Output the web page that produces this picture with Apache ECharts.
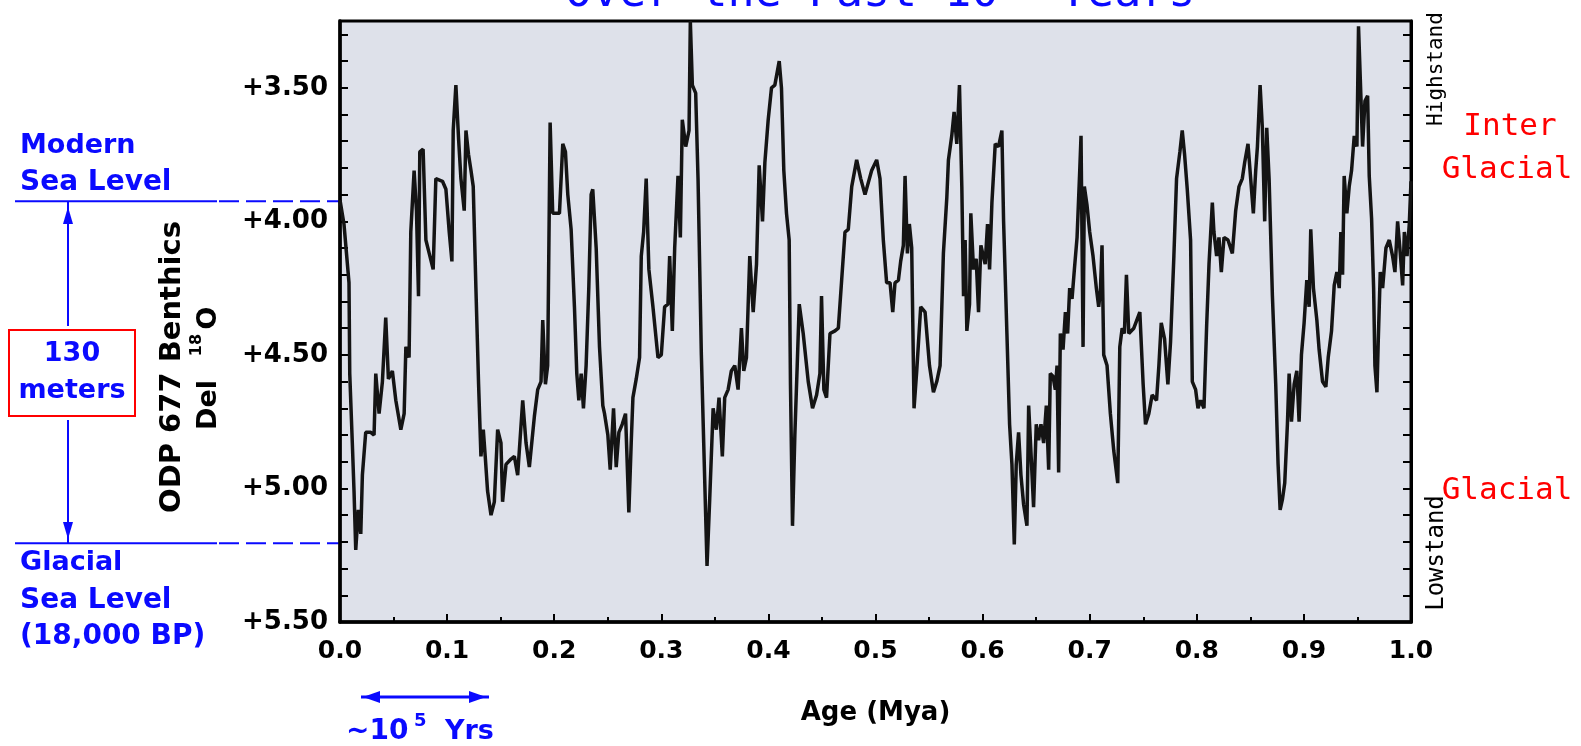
<!DOCTYPE html>
<html>
<head>
<meta charset="utf-8">
<script src="https://cdn.jsdelivr.net/npm/echarts@6/dist/echarts.min.js"></script>
<style>
html,body{margin:0;padding:0;background:#fff;}
#chart{width:1581px;height:746px;}
</style>
</head>
<body>
<div id="chart"></div>
<script>
// Age in millions of years ago (x) and benthic d18O (y)
const ages = [
0.0000,0.0037,0.0084,0.0091,0.0115,0.0131,0.0147,0.0171,0.0194,0.0209,0.0240,0.0287,0.0318,0.0334,0.0365,0.0396,0.0427,0.0452,0.0489,0.0521,
0.0568,0.0599,0.0615,0.0645,0.0661,0.0692,0.0714,0.0733,0.0745,0.0776,0.0802,0.0833,0.0870,0.0895,0.0957,0.0989,0.1020,0.1045,0.1057,0.1082,
0.1107,0.1129,0.1160,0.1176,0.1200,0.1223,0.1244,0.1269,0.1294,0.1316,0.1338,0.1356,0.1378,0.1410,0.1441,0.1472,0.1503,0.1518,0.1550,0.1597,
0.1628,0.1659,0.1706,0.1737,0.1768,0.1815,0.1846,0.1877,0.1893,0.1918,0.1939,0.1962,0.1986,0.2049,0.2080,0.2105,0.2127,0.2158,0.2189,0.2211,
0.2230,0.2252,0.2273,0.2298,0.2323,0.2345,0.2360,0.2392,0.2423,0.2454,
0.2470,0.2501,0.2523,0.2554,0.2579,0.2604,0.2635,0.2666,0.2697,0.2719,0.2735,0.2766,0.2797,0.2813,0.2835,0.2859,0.2884,0.2922,0.2969,0.3000,
0.3031,0.3062,0.3078,0.3103,0.3125,0.3156,0.3178,0.3196,0.3228,0.3259,0.3271,0.3290,0.3321,0.3343,0.3374,0.3396,0.3427,0.3452,0.3484,0.3514,
0.3539,0.3570,0.3592,0.3624,0.3654,0.3686,0.3717,0.3748,0.3770,0.3795,0.3826,0.3858,0.3889,0.3914,0.3945,0.3967,0.3998,0.4029,0.4060,0.4101,
0.4122,0.4144,0.4169,0.4194,0.4206,0.4225,0.4247,0.4269,0.4288,0.4325,0.4372,0.4412,0.4450,0.4481,0.4496,0.4518,0.4543,0.4575,0.4622,0.4653,
0.4684,0.4715,0.4746,0.4778,0.4824,0.4862,0.4902,
0.4964,0.5011,0.5042,0.5073,0.5104,0.5136,0.5161,0.5182,0.5214,0.5235,0.5260,0.5276,0.5298,0.5316,0.5338,0.5360,0.5385,0.5422,0.5463,0.5504,
0.5541,0.5572,0.5603,0.5634,0.5666,0.5681,0.5712,0.5734,0.5759,0.5784,0.5806,0.5822,0.5837,0.5853,0.5878,0.5890,0.5915,0.5940,0.5962,0.5984,
0.6024,0.6046,0.6065,0.6087,0.6118,0.6149,0.6180,0.6196,0.6227,0.6252,0.6274,0.6296,0.6314,0.6336,0.6358,0.6383,0.6414,0.6430,0.6451,0.6476,
0.6501,0.6523,0.6545,0.6570,0.6595,0.6617,0.6632,0.6657,0.6679,0.6695,0.6710,0.6726,0.6751,0.6773,0.6794,0.6813,0.6835,0.6857,0.6882,0.6907,
0.6919,0.6938,0.6950,0.6975,0.7000,0.7031,0.7062,0.7084,0.7100,0.7115,0.7131,0.7162,0.7193,0.7225,0.7262,0.7281,0.7303,0.7324,0.7343,0.7365,
0.7412,0.7468,
0.7499,0.7521,0.7552,0.7583,0.7624,0.7646,0.7668,0.7699,0.7730,0.7755,0.7786,0.7811,0.7842,0.7864,0.7886,0.7911,0.7942,0.7958,0.7989,0.8011,
0.8036,0.8067,0.8092,0.8114,0.8145,0.8160,0.8185,0.8207,0.8229,0.8254,0.8291,0.8332,0.8363,0.8394,0.8425,0.8447,0.8478,0.8503,0.8528,0.8550,
0.8566,0.8591,0.8612,0.8634,0.8653,0.8675,0.8706,0.8737,0.8759,0.8778,0.8800,0.8821,0.8846,0.8862,0.8884,0.8909,0.8934,0.8955,0.8977,0.9002,
0.9027,0.9049,0.9064,0.9089,0.9121,0.9142,0.9174,0.9205,0.9227,0.9258,0.9283,0.9308,0.9330,0.9345,0.9361,0.9376,0.9401,0.9423,0.9445,0.9470,
0.9495,0.9510,0.9526,0.9548,0.9570,0.9595,0.9610,0.9632,0.9651,0.9663,0.9682,0.9694,0.9713,0.9735,0.9766,0.9797,0.9828,0.9850,0.9875,0.9900,
0.9922,0.9938,0.9963,0.9984,1.0000
];
const d18O = [
3.92,4.01,4.23,4.57,4.83,5.01,5.23,5.08,5.17,4.95,4.79,4.79,4.80,4.57,4.72,4.60,4.36,4.59,4.56,4.67,
4.78,4.72,4.47,4.51,4.04,3.81,3.96,4.28,3.74,3.73,4.07,4.12,4.18,3.84,3.85,3.88,4.04,4.15,3.66,3.49,
3.69,3.84,3.96,3.66,3.75,3.81,3.87,4.25,4.61,4.88,4.78,4.88,5.01,5.10,5.05,4.78,4.83,5.05,4.91,4.89,
4.88,4.95,4.67,4.83,4.92,4.73,4.63,4.60,4.37,4.61,4.54,3.63,3.97,3.97,3.71,3.74,3.90,4.03,4.32,4.57,
4.67,4.57,4.70,4.54,4.25,3.90,3.88,4.10,4.47,4.69,
4.72,4.80,4.93,4.70,4.92,4.79,4.76,4.72,5.09,4.83,4.66,4.59,4.51,4.13,4.04,3.84,4.18,4.32,4.51,4.50,
4.32,4.31,4.13,4.41,4.10,3.83,4.06,3.62,3.72,3.66,3.25,3.49,3.52,3.84,4.50,4.83,5.29,5.04,4.70,4.78,
4.66,4.88,4.66,4.63,4.56,4.54,4.63,4.40,4.56,4.51,4.13,4.34,4.16,3.79,4.00,3.78,3.62,3.50,3.49,3.40,
3.50,3.81,3.97,4.07,4.61,5.14,4.80,4.54,4.31,4.42,4.60,4.70,4.65,4.57,4.28,4.63,4.66,4.42,4.41,4.40,
4.22,4.04,4.03,3.87,3.77,3.84,3.90,
3.81,3.77,3.84,4.07,4.23,4.23,4.34,4.23,4.22,4.15,4.09,3.83,4.12,4.01,4.10,4.70,4.56,4.32,4.34,4.54,
4.64,4.60,4.54,4.12,3.91,3.77,3.68,3.59,3.71,3.49,3.87,4.28,4.07,4.41,4.31,3.97,4.18,4.14,4.34,4.09,
4.16,4.01,4.18,3.93,3.71,3.72,3.66,4.00,4.42,4.76,4.91,5.21,4.91,4.79,4.95,5.06,5.14,4.69,4.86,5.07,
4.76,4.82,4.76,4.83,4.69,4.93,4.57,4.58,4.63,4.54,4.94,4.42,4.48,4.34,4.42,4.25,4.29,4.18,4.06,3.81,
3.68,4.47,3.87,3.94,4.04,4.13,4.25,4.32,4.26,4.09,4.50,4.54,4.72,4.86,4.98,4.47,4.40,4.42,4.20,4.42,
4.40,4.34,
4.61,4.76,4.72,4.65,4.67,4.54,4.38,4.44,4.61,4.45,4.13,3.84,3.74,3.66,3.75,3.88,4.07,4.60,4.63,4.70,
4.67,4.70,4.39,4.16,3.93,4.04,4.13,4.06,4.19,4.06,4.07,4.12,3.96,3.87,3.84,3.78,3.71,3.84,3.97,3.81,
3.72,3.49,3.65,4.00,3.65,3.84,4.28,4.61,4.91,5.08,5.04,4.98,4.76,4.57,4.75,4.61,4.56,4.75,4.50,4.38,
4.22,4.32,4.03,4.25,4.37,4.48,4.60,4.62,4.51,4.41,4.24,4.19,4.25,4.04,4.20,3.83,3.97,3.87,3.81,3.68,
3.72,3.27,3.46,3.72,3.55,3.53,3.83,3.99,4.25,4.54,4.64,4.45,4.19,4.25,4.10,4.07,4.13,4.19,4.00,4.12,
4.24,4.04,4.13,4.01,3.85
];
const yLabelValues = [3.5, 4.0, 4.5, 5.0, 5.5];
const yTickValues = [3.3,3.4,3.5,3.6,3.7,3.8,3.9,4.0,4.1,4.2,4.3,4.4,4.5,4.6,4.7,4.8,4.9,5.0,5.1,5.2,5.3,5.4,5.5];
const modernSeaLevel = 3.925;
const glacialSeaLevel = 5.205;

const BLUE = '#0a0aff';
const RED = '#ff0000';
const SANS = 'DejaVu Sans';
const MONO = 'DejaVu Sans Mono';

const chart = echarts.init(document.getElementById('chart'), null, {renderer: 'canvas'});

const seriesData = ages.map((a, i) => [a, d18O[i]]);

const option = {
  animation: false,
  backgroundColor: '#ffffff',
  grid: {
    left: 340, right: 170, top: 21, bottom: 124,
    show: true, backgroundColor: '#dee1ea', borderColor: '#000', borderWidth: 3
  },
  xAxis: {
    type: 'value', min: 0, max: 1, interval: 0.1,
    axisLine: {show: true, lineStyle: {color: '#000', width: 3.5}},
    axisTick: {show: true, inside: true, length: 8, lineStyle: {color: '#000', width: 2}},
    minorTick: {show: true, splitNumber: 2, length: 5, lineStyle: {color: '#000', width: 2}},
    splitLine: {show: false},
    axisLabel: {formatter: v => v.toFixed(1), fontFamily: SANS, fontWeight: 'bold', fontSize: 25, color: '#000', margin: 17},
    name: 'Age (Mya)', nameLocation: 'middle', nameGap: 78,
    nameTextStyle: {fontFamily: SANS, fontWeight: 'bold', fontSize: 26, color: '#000'}
  },
  yAxis: [
    {
      type: 'value', position: 'left', inverse: true, min: 3.25, max: 5.5,
      axisLine: {show: true, lineStyle: {color: '#000', width: 3.5}},
      axisTick: {show: true, inside: true, length: 8, customValues: yTickValues, lineStyle: {color: '#000', width: 2}},
      splitLine: {show: false},
      axisLabel: {customValues: yLabelValues, formatter: v => '+' + v.toFixed(2), fontFamily: SANS, fontWeight: 'bold', fontSize: 26, color: '#000', margin: 12}
    },
    {
      type: 'value', position: 'right', inverse: true, min: 3.25, max: 5.5,
      axisLine: {show: true, lineStyle: {color: '#000', width: 3}},
      axisTick: {show: true, inside: true, length: 8, customValues: yTickValues, lineStyle: {color: '#000', width: 2}},
      splitLine: {show: false},
      axisLabel: {show: false}
    }
  ],
  series: [{
    type: 'line', data: seriesData, showSymbol: false, clip: true,
    lineStyle: {color: '#141414', width: 3.5}, yAxisIndex: 0
  }]
};
chart.setOption(option);

// annotation positions for sea-level lines derived from the y axis
const yModern = chart.convertToPixel({yAxisIndex: 0}, modernSeaLevel);
const yGlacial = chart.convertToPixel({yAxisIndex: 0}, glacialSeaLevel);
const axisX = chart.convertToPixel({xAxisIndex: 0}, 0);

function txt(text, x, y, size, opts) {
  return Object.assign({
    type: 'text', x: x, y: y, silent: true,
    style: Object.assign({text: text, font: 'bold ' + size + 'px "' + SANS + '"', fill: '#000', align: 'left', verticalAlign: 'middle'}, (opts && opts.style) || {})
  }, opts ? {rotation: opts.rotation || 0} : {});
}

const graphics = [
  // title (clipped at top)
  {type: 'text', x: 565, y: -6, silent: true, style: {text: 'Over the Past 10', font: '45px "' + MONO + '"', fill: BLUE, verticalAlign: 'middle'}},
  {type: 'text', x: 1001, y: -24, silent: true, style: {text: '6', font: '30px "' + MONO + '"', fill: BLUE, verticalAlign: 'middle'}},
  {type: 'text', x: 1060, y: -6, silent: true, style: {text: 'Years', font: '45px "' + MONO + '"', fill: BLUE, verticalAlign: 'middle'}},

  // left annotations
  txt('Modern', 20, 146, 27, {style: {fill: BLUE}}),
  txt('Sea Level', 20, 183, 28, {style: {fill: BLUE}}),
  txt('Glacial', 20, 563, 27, {style: {fill: BLUE}}),
  txt('Sea Level', 20, 601, 28, {style: {fill: BLUE}}),
  txt('(18,000 BP)', 20, 637, 28, {style: {fill: BLUE}}),
  {type: 'line', silent: true, shape: {x1: 15, y1: yModern, x2: 217, y2: yModern}, style: {stroke: BLUE, lineWidth: 2}},
  {type: 'line', silent: true, shape: {x1: 219, y1: yModern, x2: axisX, y2: yModern}, style: {stroke: BLUE, lineWidth: 2, lineDash: [20, 7]}},
  {type: 'line', silent: true, shape: {x1: 15, y1: yGlacial, x2: 217, y2: yGlacial}, style: {stroke: BLUE, lineWidth: 2}},
  {type: 'line', silent: true, shape: {x1: 219, y1: yGlacial, x2: axisX, y2: yGlacial}, style: {stroke: BLUE, lineWidth: 2, lineDash: [20, 7]}},
  {type: 'line', silent: true, shape: {x1: 68, y1: yModern, x2: 68, y2: 326}, style: {stroke: BLUE, lineWidth: 2}},
  {type: 'line', silent: true, shape: {x1: 68, y1: 420, x2: 68, y2: yGlacial}, style: {stroke: BLUE, lineWidth: 2}},
  {type: 'polygon', silent: true, shape: {points: [[68, 207], [63, 224], [73, 224]]}, style: {fill: BLUE}},
  {type: 'polygon', silent: true, shape: {points: [[68, 539], [63, 522], [73, 522]]}, style: {fill: BLUE}},
  {type: 'rect', silent: true, shape: {x: 9, y: 330, width: 126, height: 86}, style: {fill: '#fff', stroke: RED, lineWidth: 2}},
  txt('130', 72, 354, 27, {style: {fill: BLUE, align: 'center'}}),
  txt('meters', 72, 391, 27, {style: {fill: BLUE, align: 'center'}}),

  // y axis name
  txt('ODP 677 Benthics', 172, 367, 29, {rotation: Math.PI / 2, style: {align: 'center'}}),
  txt('Del', 209, 405, 27, {rotation: Math.PI / 2, style: {align: 'center'}}),
  txt('18', 197, 345, 16, {rotation: Math.PI / 2, style: {align: 'center'}}),
  txt('O', 209, 318, 27, {rotation: Math.PI / 2, style: {align: 'center'}}),

  // right annotations
  {type: 'text', x: 1437, y: 69, rotation: Math.PI / 2, silent: true, style: {text: 'Highstand', font: '21px "' + MONO + '"', fill: '#000', align: 'center', verticalAlign: 'middle'}},
  {type: 'text', x: 1437, y: 553, rotation: Math.PI / 2, silent: true, style: {text: 'Lowstand', font: '24px "' + MONO + '"', fill: '#000', align: 'center', verticalAlign: 'middle'}},
  {type: 'text', x: 1510, y: 127, silent: true, style: {text: 'Inter', font: '31px "' + MONO + '"', fill: RED, align: 'center', verticalAlign: 'middle'}},
  {type: 'text', x: 1507, y: 170, silent: true, style: {text: 'Glacial', font: '31px "' + MONO + '"', fill: RED, align: 'center', verticalAlign: 'middle'}},
  {type: 'text', x: 1507, y: 491, silent: true, style: {text: 'Glacial', font: '31px "' + MONO + '"', fill: RED, align: 'center', verticalAlign: 'middle'}},

  // ~10^5 years arrow
  {type: 'line', silent: true, shape: {x1: 361, y1: 697, x2: 489, y2: 697}, style: {stroke: BLUE, lineWidth: 3}},
  {type: 'polygon', silent: true, shape: {points: [[363, 697], [380, 691], [380, 703]]}, style: {fill: BLUE}},
  {type: 'polygon', silent: true, shape: {points: [[486, 697], [469, 691], [469, 703]]}, style: {fill: BLUE}},
  txt('~10', 346, 732, 28, {style: {fill: BLUE}}),
  txt('5', 414, 721, 18, {style: {fill: BLUE}}),
  txt('Yrs', 445, 732, 27, {style: {fill: BLUE}})
];

chart.setOption({graphic: {elements: graphics}});
</script>
</body>
</html>
